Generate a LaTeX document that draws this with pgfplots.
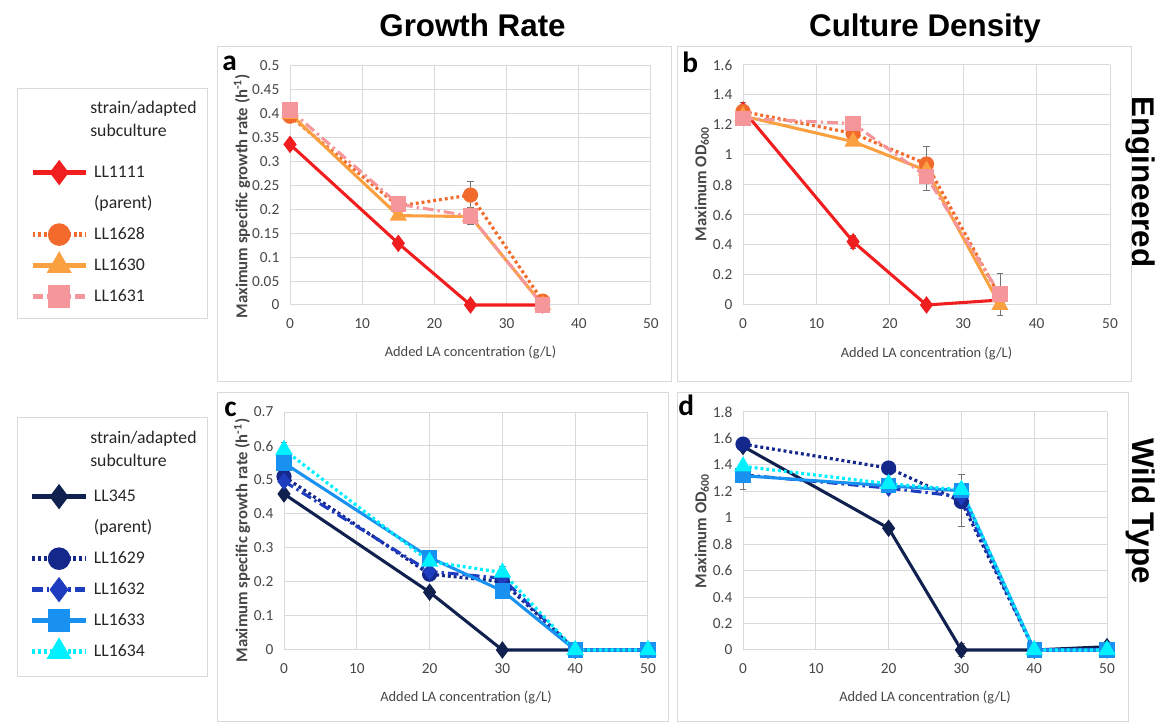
\documentclass[border=0pt]{standalone}
\usepackage{fontspec}
\setmainfont{Carlito}
\newfontfamily\titlefont{Liberation Sans}
\usepackage{pgfplots}
\pgfplotsset{compat=1.18}

\definecolor{c1111}{RGB}{240,30,30}
\definecolor{c1628}{RGB}{243,107,44}
\definecolor{c1630}{RGB}{250,160,65}
\definecolor{c1631}{RGB}{245,150,155}
\definecolor{c345}{RGB}{16,33,80}
\definecolor{c1629}{RGB}{20,40,140}
\definecolor{c1632}{RGB}{30,60,190}
\definecolor{c1633}{RGB}{25,145,240}
\definecolor{c1634}{RGB}{0,240,255}
\definecolor{gridc}{RGB}{217,217,217}
\definecolor{txt}{RGB}{70,70,70}

\pgfplotsset{
  panel/.style={
    scale only axis, clip=false,
    xmin=0, xmax=50, xtick={0,10,20,30,40,50},
    grid=major, grid style={draw=gridc, line width=0.75pt},
    axis line style={draw=none},
    major tick length=0pt,
    tick label style={font=\fontsize{11.5}{13}\selectfont, text=txt},
    /pgf/number format/assume math mode=true,
    xticklabel style={yshift=-7pt},
    yticklabel style={xshift=-4.5pt, /pgf/number format/fixed, /pgf/number format/precision=2},
    xlabel={Added LA concentration (g/L)},
    xlabel style={at={(axis description cs:0.5,-0.2)}, anchor=center, font=\fontsize{10.8}{12}\selectfont, text=txt},
    ylabel style={font=\bfseries\fontsize{12.5}{14}\selectfont, text=txt, anchor=center},
    legend image code/.code={\draw[mark repeat=2, mark phase=2] plot coordinates {(0pt,0pt) (20pt,0pt) (40pt,0pt)};},
    legend cell align=left,
  },
  eb/.style={draw=none, mark=none, forget plot,
    error bars/.cd, y dir=both, y explicit,
    error bar style={draw=black!55, line width=0.6pt},
    error mark options={rotate=90, mark size=2.5pt, draw=black!55, line width=0.6pt}},
  leg/.style={draw=none, fill=none, anchor=north west, inner sep=0pt,
    row sep=6.25pt, column sep=4.5pt,
    font=\fontsize{13.3}{16}\selectfont, text=black!85,
    nodes={inner xsep=0pt, inner ysep=2pt, text height=10pt, text depth=3pt}},
  dots/.style={line cap=butt, dash pattern=on 2.2pt off 2.2pt},
  dashdot/.style={dash pattern=on 8pt off 3pt on 1.8pt off 3pt},
  L/.style={mark size=6.8pt, line width=3.3pt},
  s1111/.style={color=c1111, line width=2.3pt, mark=diamond*, mark size=4.7pt, mark options={solid}},
  s1628/.style={color=c1628, line width=2.4pt, dots, mark=*, mark size=4.5pt, mark options={solid}},
  s1630/.style={color=c1630, line width=2.3pt, mark=triangle*, mark size=5.2pt, mark options={solid}},
  s1631/.style={color=c1631, line width=2.3pt, dashdot, mark=square*, mark size=4.6pt, mark options={solid}},
  s345/.style={color=c345, line width=2.3pt, mark=diamond*, mark size=4.7pt, mark options={solid}},
  s1629/.style={color=c1629, line width=2.4pt, dots, mark=*, mark size=4.5pt, mark options={solid}},
  s1632/.style={color=c1632, line width=2.3pt, dashdot, mark=diamond*, mark size=4.7pt, mark options={solid}},
  s1633/.style={color=c1633, line width=2.3pt, mark=square*, mark size=4.6pt, mark options={solid}},
  s1634/.style={color=c1634, line width=2.4pt, dots, mark=triangle*, mark size=5.2pt, mark options={solid}},
}

\begin{document}
\begin{tikzpicture}
\path[use as bounding box] (0,0) rectangle (870pt,542.25pt);
% panel frames
\draw[gridc, line width=0.75pt] (162.75pt,255.75pt) rectangle (503.25pt,507pt);
\draw[gridc, line width=0.75pt] (507.75pt,255.75pt) rectangle (848.25pt,507pt);
\draw[gridc, line width=0.75pt] (162.75pt,0.75pt) rectangle (501pt,247.5pt);
\draw[gridc, line width=0.75pt] (507.75pt,0.75pt) rectangle (846pt,247.5pt);
% legend frames
\draw[gridc, line width=0.75pt] (12.75pt,303pt) rectangle (155.25pt,475.5pt);
\draw[gridc, line width=0.75pt] (12.75pt,34.5pt) rectangle (155.25pt,228.75pt);
% legend titles
\node[anchor=base west, font=\fontsize{13.3}{16}\selectfont, text=black!85, inner sep=0pt] at (67.5pt,457pt) {strain/adapted};
\node[anchor=base west, font=\fontsize{13.3}{16}\selectfont, text=black!85, inner sep=0pt] at (67.5pt,439.5pt) {subculture};
\node[anchor=base west, font=\fontsize{13.3}{16}\selectfont, text=black!85, inner sep=0pt] at (67.5pt,209.5pt) {strain/adapted};
\node[anchor=base west, font=\fontsize{13.3}{16}\selectfont, text=black!85, inner sep=0pt] at (67.5pt,192pt) {subculture};
% column titles and row labels
\node[anchor=base, font=\titlefont\bfseries\fontsize{23.5}{28}\selectfont, inner sep=0pt] at (354.4pt,514.5pt) {Growth Rate};
\node[anchor=base, font=\titlefont\bfseries\fontsize{23.5}{28}\selectfont, inner sep=0pt] at (693.75pt,514.5pt) {Culture Density};
\node[anchor=base, rotate=-90, font=\titlefont\bfseries\fontsize{23.5}{28}\selectfont, inner sep=0pt] at (849pt,405.75pt) {Engineered};
\node[anchor=base, rotate=-90, font=\titlefont\bfseries\fontsize{23.5}{28}\selectfont, inner sep=0pt] at (849pt,159pt) {Wild Type};
% panel letters
\node[anchor=base west, font=\bfseries\fontsize{22}{26}\selectfont, inner sep=0pt] at (166.5pt,489pt) {a};
\node[anchor=base west, font=\bfseries\fontsize{22}{26}\selectfont, inner sep=0pt] at (511.5pt,487.5pt) {b};
\node[anchor=base west, font=\bfseries\fontsize{22}{26}\selectfont, inner sep=0pt] at (168pt,229.5pt) {c};
\node[anchor=base west, font=\bfseries\fontsize{22}{26}\selectfont, inner sep=0pt] at (508.5pt,230.25pt) {d};

% ---------------- panel a ----------------
\begin{axis}[panel, at={(217.5pt,313.5pt)}, anchor=south west,
  width=270.75pt, height=179.25pt,
  ymin=0, ymax=0.5, ytick={0,0.05,0.1,0.15,0.2,0.25,0.3,0.35,0.4,0.45,0.5},
  ylabel={Maximum specific growth rate (h\textsuperscript{-1})},
  ylabel style={at={(axis description cs:-0.133,0.455)}},
  legend style={leg, at={(axis description cs:-0.72,0.6025)}}]
\addplot[s1111, forget plot] coordinates {(0,0.336) (15,0.129) (25,0) (35,0)};
\addplot[s1628, forget plot] coordinates {(0,0.395) (15,0.207) (25,0.230) (35,0.008)};
\addplot[s1630, forget plot] coordinates {(0,0.400) (15,0.187) (25,0.185) (35,0)};
\addplot[s1631, forget plot] coordinates {(0,0.408) (15,0.211) (25,0.186) (35,0)};
\addplot[eb] coordinates {(25,0.230) +- (0,0.028) (25,0.186) +- (0,0.018)};
\addlegendimage{s1111, L}
\addlegendentry{LL1111}
\addlegendimage{empty legend}
\addlegendentry{(parent)}
\addlegendimage{s1628, L}
\addlegendentry{LL1628}
\addlegendimage{s1630, L, mark size=7.5pt}
\addlegendentry{LL1630}
\addlegendimage{s1631, L}
\addlegendentry{LL1631}
\end{axis}

% ---------------- panel b ----------------
\begin{axis}[panel, at={(557.25pt,313.5pt)}, anchor=south west,
  width=275.25pt, height=180pt,
  ymin=0, ymax=1.6, ytick={0,0.2,0.4,0.6,0.8,1,1.2,1.4,1.6},
  ylabel={Maximum OD\textsubscript{600}},
  ylabel style={at={(axis description cs:-0.112,0.504)}}]
\addplot[s1111] coordinates {(0,1.30) (15,0.422) (25,0) (35,0.033)};
\addplot[s1628] coordinates {(0,1.29) (15,1.144) (25,0.94) (35,0.055)};
\addplot[s1630] coordinates {(0,1.26) (15,1.089) (25,0.896) (35,0)};
\addplot[s1631] coordinates {(0,1.244) (15,1.21) (25,0.856) (35,0.073)};
\addplot[eb] coordinates {(0,1.30) +- (0,0.05) (15,0.422) +- (0,0.045) (25,0.94) +- (0,0.12) (25,0.856) +- (0,0.095) (35,0.073) +- (0,0.14)};
\end{axis}

% ---------------- panel c ----------------
\begin{axis}[panel, at={(213pt,54.75pt)}, anchor=south west,
  width=273pt, height=178.5pt,
  ymin=0, ymax=0.7, ytick={0,0.1,0.2,0.3,0.4,0.5,0.6,0.7},
  ylabel={Maximum specific growth rate (h\textsuperscript{-1})},
  ylabel style={at={(axis description cs:-0.115,0.46)}},
  legend style={leg, at={(axis description cs:-0.698,0.693)}}]
\addplot[s345, forget plot] coordinates {(0,0.459) (20,0.170) (30,0) (40,0) (50,0)};
\addplot[s1629, forget plot] coordinates {(0,0.51) (20,0.223) (30,0.201) (40,0) (50,0)};
\addplot[s1632, forget plot] coordinates {(0,0.496) (20,0.231) (30,0.211) (40,0) (50,0)};
\addplot[s1633, forget plot] coordinates {(0,0.55) (20,0.272) (30,0.174) (40,0) (50,0)};
\addplot[s1634, forget plot] coordinates {(0,0.589) (20,0.26) (30,0.228) (40,0) (50,0)};
\addplot[eb] coordinates {(0,0.589) +- (0,0.022) (30,0.228) +- (0,0.018)};
\addlegendimage{s345, L}
\addlegendentry{LL345}
\addlegendimage{empty legend}
\addlegendentry{(parent)}
\addlegendimage{s1629, L}
\addlegendentry{LL1629}
\addlegendimage{s1632, L}
\addlegendentry{LL1632}
\addlegendimage{s1633, L}
\addlegendentry{LL1633}
\addlegendimage{s1634, L, mark size=7.5pt}
\addlegendentry{LL1634}
\end{axis}

% ---------------- panel d ----------------
\begin{axis}[panel, at={(557.25pt,54.75pt)}, anchor=south west,
  width=273pt, height=178.5pt,
  ymin=0, ymax=1.8, ytick={0,0.2,0.4,0.6,0.8,1,1.2,1.4,1.6,1.8},
  ylabel={Maximum OD\textsubscript{600}},
  ylabel style={at={(axis description cs:-0.113,0.5)}}]
\addplot[s345] coordinates {(0,1.54) (20,0.921) (30,0) (40,0) (50,0.025)};
\addplot[s1629] coordinates {(0,1.557) (20,1.376) (30,1.123) (40,0) (50,0)};
\addplot[s1632] coordinates {(0,1.325) (20,1.224) (30,1.16) (40,0) (50,0)};
\addplot[s1633] coordinates {(0,1.318) (20,1.242) (30,1.204) (40,0) (50,0)};
\addplot[s1634] coordinates {(0,1.389) (20,1.257) (30,1.212) (40,0) (50,0)};
\addplot[eb] coordinates {(0,1.318) +- (0,0.1) (20,0.921) +- (0,0.035) (30,1.13) +- (0,0.196) (30,0) +- (0,0.05)};
\end{axis}
\end{tikzpicture}
\end{document}
